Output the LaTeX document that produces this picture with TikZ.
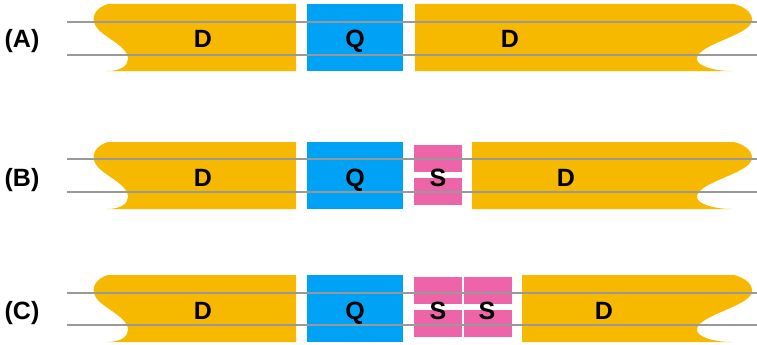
\documentclass[tikz,border=0pt]{standalone}
\usepackage{fontspec}
\setmainfont{Liberation Sans}
\definecolor{dgold}{HTML}{F7B900}
\definecolor{qblue}{HTML}{00A2F5}
\definecolor{spink}{HTML}{EE64A8}
\definecolor{lgrey}{HTML}{999999}
\tikzset{
	lbl/.style={font=\fontsize{25}{27}\selectfont\bfseries, inner sep=0pt, anchor=base},
	qbox/.style={fill=qblue, minimum width=96, minimum height=67, inner sep=0pt},
	shalf/.style={fill=spink, minimum width=48, minimum height=27, inner sep=0pt},
	track/.style={draw=lgrey, line width=2}
}
\begin{document}
\begin{tikzpicture}[x=1pt, y=-1pt]
	\useasboundingbox (0,0) rectangle (757,345);
	\foreach \r/\t/\dx/\dl in {A/4/415/510, B/142/472/566, C/275/522/604}
	{
		% left D
		\fill[dgold] (296,\t) -- (108,\t) .. controls (98,\t+3) and (92,\t+10) .. (94,\t+18)
			.. controls (97,\t+32) and (128,\t+40) .. (128,\t+55)
			.. controls (128,\t+62) and (120,\t+67) .. (107,\t+67) -- (296,\t+67) -- cycle;
		% right D
		\fill[dgold] (\dx,\t) -- (734,\t) .. controls (746,\t+3) and (753,\t+10) .. (752,\t+17)
			.. controls (749,\t+32) and (697,\t+40) .. (697,\t+55)
			.. controls (697,\t+62) and (714,\t+67) .. (732,\t+67) -- (\dx,\t+67) -- cycle;
		\node[qbox] (q\r) at (355,\t+33.5) {};
		\coordinate (base\r) at (0,\t+44);
		\node[lbl] (dl\r) at (203,\t+44) {D};
		\node[lbl] (dr\r) at (\dl,\t+44) {D};
		\node[lbl] (n\r) at (22,\t+44) {(\r)};
	}

	% S blocks
	\node[shalf] (sB1) at (438,158.5) {};
	\node[shalf] (sB2) at (438,191) {};
	\foreach \i/\x in {1/437.5, 2/488}
	{
		\node[shalf] (sC\i1) at (\x,290.5) {};
		\node[shalf] (sC\i2) at (\x,323.5) {};
	}

	% tracks
	\foreach \r/\a/\b in {A/22/55, B/159/192, C/293/325}
	{
		\coordinate (la\r) at (67,\a);
		\coordinate (ra\r) at (757,\a);
		\coordinate (lb\r) at (67,\b);
		\coordinate (rb\r) at (757,\b);
		\draw[track] (la\r) -- (ra\r);
		\draw[track] (lb\r) -- (rb\r);
	}

	\foreach \r in {A,B,C}
	{
		\node[lbl] at (q\r.center |- base\r) {Q};
	}
	\node[lbl] (sB) at (438,186) {S};
	\node[lbl] (sC1) at (438,319) {S};
	\node[lbl] (sC2) at (487,319) {S};
\end{tikzpicture}
\end{document}
